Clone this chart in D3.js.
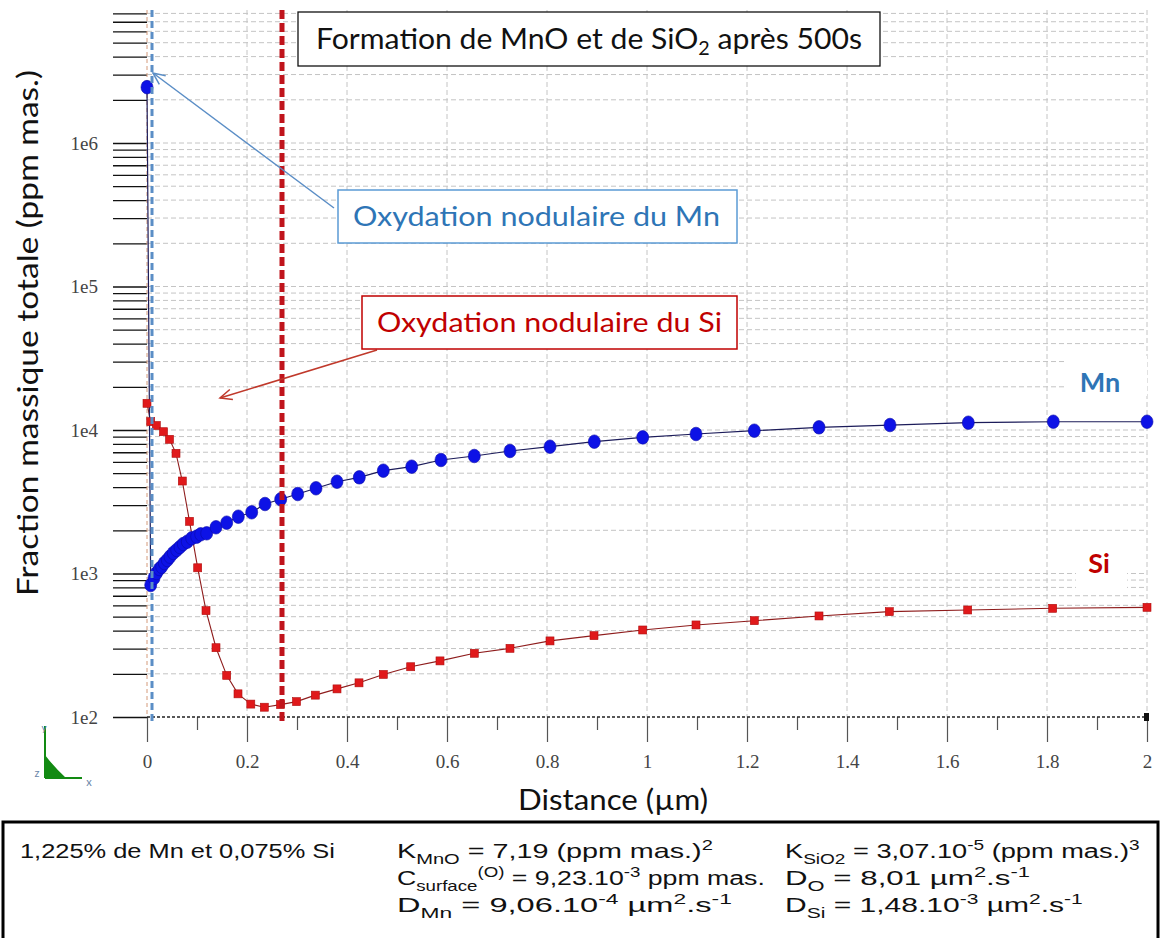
<!DOCTYPE html>
<html>
<head>
<meta charset="utf-8">
<script src="https://cdn.jsdelivr.net/npm/d3@7"></script>
<style>
  body { margin: 0; background: #fff; }
  svg { display: block; }
</style>
</head>
<body>
<svg id="chart" width="1161" height="938"></svg>
<script>
// Mn profile: distance from surface (µm) and total mass fraction (ppm mas.)
const mnDistance = [0, 0.0074, 0.014, 0.019, 0.0246, 0.0294, 0.0346, 0.0406, 0.046, 0.0526,
  0.0594, 0.066, 0.0726, 0.0806, 0.0894, 0.0994, 0.1074, 0.1194, 0.138, 0.1594,
  0.1826, 0.2094, 0.236, 0.2674, 0.3014, 0.338, 0.38, 0.4246, 0.4726, 0.5294,
  0.588, 0.6546, 0.726, 0.806, 0.8946, 0.9914, 1.098, 1.2146, 1.344, 1.486,
  1.6426, 1.8126, 2.0];
const mnFraction = [2450000, 831, 930, 1008, 1075, 1115, 1183, 1242, 1310, 1390,
  1458, 1530, 1605, 1666, 1760, 1806, 1876, 1906, 2099, 2260,
  2488, 2670, 3050, 3290, 3580, 3925, 4360, 4680, 5205, 5550,
  6180, 6590, 7140, 7650, 8290, 8890, 9380, 9890, 10440, 10830,
  11240, 11420, 11420];

// Si profile
const siDistance = [0, 0.0074, 0.0186, 0.033, 0.045, 0.058, 0.0706, 0.085, 0.1014, 0.118,
  0.138, 0.1594, 0.182, 0.2076, 0.2346, 0.267, 0.299, 0.3366, 0.38, 0.424,
  0.4726, 0.5274, 0.586, 0.6546, 0.726, 0.806, 0.894, 0.9914, 1.098, 1.2146,
  1.344, 1.4846, 1.6414, 1.8114, 2.0];
const siFraction = [15350, 11430, 10750, 9730, 8610, 6880, 4410, 2310, 1096, 551,
  304, 195, 145, 123, 117, 122, 128, 142, 157, 173,
  198, 224, 246, 278, 301, 339, 369, 404, 438, 469,
  506, 542, 557, 572, 581];

// depth of the nodular oxidation fronts (µm)
const mnFrontDepth = 0.01;
const siFrontDepth = 0.27;

// axis ticks
const xMajorTicks = [0, 0.2, 0.4, 0.6, 0.8, 1, 1.2, 1.4, 1.6, 1.8, 2];
const xMinorTicks = [0.1, 0.3, 0.5, 0.7, 0.9, 1.1, 1.3, 1.5, 1.7, 1.9];
const yDecades = [1e2, 1e3, 1e4, 1e5, 1e6];
const yDecadeLabels = ["1e2", "1e3", "1e4", "1e5", "1e6"];

const svg = d3.select("#chart");
const x = d3.scaleLinear().domain([0, 2]).range([147, 1147]);
const y = d3.scaleLog().domain([100, 8.45e6]).range([717, 10]);

const yLogTicks = [];
yDecades.forEach(d => { for (let m = 1; m <= 9; m++) { const v = m * d; if (v <= 8.2e6) yLogTicks.push(v); } });

const FONT = "Lato, 'Open Sans', sans-serif";
const SERIF = "'Liberation Serif', 'DejaVu Serif', serif";

// ---- grid ----
const grid = svg.append("g");
grid.selectAll("line.h").data(yLogTicks.filter(v => v > 100)).join("line")
  .attr("x1", x(0)).attr("x2", x(2))
  .attr("y1", d => y(d)).attr("y2", d => y(d))
  .attr("stroke", "#c4c4c4").attr("stroke-width", 1).attr("stroke-dasharray", "5,3");
grid.selectAll("line.v").data(xMajorTicks.filter(v => v > 0)).join("line")
  .attr("x1", d => x(d)).attr("x2", d => x(d))
  .attr("y1", y.range()[1]).attr("y2", y(100))
  .attr("stroke", "#c4c4c4").attr("stroke-width", 1).attr("stroke-dasharray", "5,3");

// ---- y axis: long ticks to the left, decade labels ----
const yAxis = svg.append("g").attr("transform", `translate(${x(0)},0)`)
  .call(d3.axisLeft(y).tickValues(yLogTicks).tickSize(34).tickPadding(15)
    .tickFormat(v => { const i = yDecades.indexOf(v); return i >= 0 ? yDecadeLabels[i] : ""; }));
yAxis.select(".domain").remove();
yAxis.selectAll(".tick line").attr("stroke", "#111").attr("stroke-width", 1.3);
yAxis.selectAll(".tick text").attr("font-family", SERIF).attr("font-size", 19).attr("fill", "#444");

// vertical axis line
svg.append("line").attr("x1", x(0)).attr("x2", x(0)).attr("y1", y.range()[1]).attr("y2", y(100))
  .attr("stroke", "#d49a7a").attr("stroke-width", 1).attr("stroke-dasharray", "4,3");

// ---- x axis ----
const xAxis = svg.append("g").attr("transform", `translate(0,${y(100)})`)
  .call(d3.axisBottom(x).tickValues(xMajorTicks).tickSize(25).tickPadding(13)
    .tickFormat(d => String(+d.toFixed(1))));
xAxis.select(".domain").remove();
xAxis.selectAll(".tick line").attr("stroke", "#555").attr("stroke-width", 1.2);
xAxis.selectAll(".tick text").attr("font-family", SERIF).attr("font-size", 19).attr("fill", "#444");
const xMinor = svg.append("g").attr("transform", `translate(0,${y(100)})`)
  .call(d3.axisBottom(x).tickValues(xMinorTicks).tickSize(13).tickFormat(""));
xMinor.select(".domain").remove();
xMinor.selectAll(".tick line").attr("stroke", "#555").attr("stroke-width", 1.2);

svg.append("line").attr("x1", x(0)).attr("x2", x(2)).attr("y1", y(100)).attr("y2", y(100))
  .attr("stroke", "#222").attr("stroke-width", 1.5).attr("stroke-dasharray", "3,2");
svg.append("rect").attr("x", x(2) - 3).attr("y", y(100) - 4).attr("width", 5).attr("height", 8).attr("fill", "#111");

// ---- series ----
const mnData = mnDistance.map((d, i) => ({ x: d, v: mnFraction[i] }));
const siData = siDistance.map((d, i) => ({ x: d, v: siFraction[i] }));
const line = d3.line().x(d => x(d.x)).y(d => y(d.v));

svg.append("path").datum(siData).attr("d", line)
  .attr("fill", "none").attr("stroke", "#8e1c1c").attr("stroke-width", 1.1);
svg.append("path").datum(mnData).attr("d", line)
  .attr("fill", "none").attr("stroke", "#1c1c5a").attr("stroke-width", 1.2);

svg.append("g").selectAll("rect").data(siData).join("rect")
  .attr("x", d => x(d.x) - 4).attr("y", d => y(d.v) - 4)
  .attr("width", 8).attr("height", 8)
  .attr("fill", "#e0191b").attr("stroke", "#b01010").attr("stroke-width", 0.6);
svg.append("g").selectAll("ellipse").data(mnData).join("ellipse")
  .attr("cx", d => x(d.x)).attr("cy", d => y(d.v))
  .attr("rx", 6).attr("ry", 6.8)
  .attr("fill", "#0d12e6").attr("stroke", "#0a0aa8").attr("stroke-width", 0.6);

// ---- oxidation front markers ----
svg.append("line").attr("x1", x(mnFrontDepth)).attr("x2", x(mnFrontDepth))
  .attr("y1", 10).attr("y2", 722)
  .attr("stroke", "#5b8ec6").attr("stroke-width", 3).attr("stroke-dasharray", "7,4");
svg.append("line").attr("x1", x(siFrontDepth)).attr("x2", x(siFrontDepth))
  .attr("y1", 10).attr("y2", 724)
  .attr("stroke", "#c0141c").attr("stroke-width", 5).attr("stroke-dasharray", "9,4");

// ---- labels with white backing ----
svg.append("rect").attr("x", 1064).attr("y", 356).attr("width", 83).attr("height", 40).attr("fill", "#fff");
svg.append("rect").attr("x", 1076).attr("y", 540).attr("width", 51).attr("height", 54).attr("fill", "#fff");
svg.append("text").attr("x", 1100).attr("y", 392).attr("text-anchor", "middle")
  .attr("font-family", FONT).attr("font-weight", 700).attr("font-size", 27).attr("fill", "#2e75b6").text("Mn");
svg.append("text").attr("x", 1099).attr("y", 573).attr("text-anchor", "middle")
  .attr("font-family", FONT).attr("font-weight", 700).attr("font-size", 27).attr("fill", "#c00000").text("Si");

// ---- title box ----
svg.append("rect").attr("x", 298).attr("y", 12).attr("width", 582).attr("height", 54)
  .attr("fill", "#fff").attr("stroke", "#111").attr("stroke-width", 1.3);
const title = svg.append("text").attr("x", 316).attr("y", 49)
  .attr("font-family", FONT).attr("font-size", 29).attr("fill", "#111")
  .attr("textLength", 546).attr("lengthAdjust", "spacingAndGlyphs");
title.append("tspan").text("Formation de MnO et de SiO");
title.append("tspan").attr("dy", 6).attr("font-size", 19).text("2");
title.append("tspan").attr("dy", -6).text(" après 500s");

// ---- annotations ----
function arrow(x1, y1, x2, y2, color) {
  const a = Math.atan2(y2 - y1, x2 - x1), L = 13, s = 0.42;
  svg.append("line").attr("x1", x1).attr("y1", y1).attr("x2", x2).attr("y2", y2)
    .attr("stroke", color).attr("stroke-width", 1.5);
  const p = [[x2 - L * Math.cos(a - s), y2 - L * Math.sin(a - s)], [x2, y2],
             [x2 - L * Math.cos(a + s), y2 - L * Math.sin(a + s)]];
  svg.append("path").attr("d", d3.line()(p)).attr("fill", "none")
    .attr("stroke", color).attr("stroke-width", 1.5);
}
arrow(334, 208, 153, 73, "#5b8ec6");
arrow(377, 350, 220, 398, "#c0392b");

svg.append("rect").attr("x", 338).attr("y", 190).attr("width", 399).attr("height", 53)
  .attr("fill", "#fff").attr("stroke", "#5b9bd5").attr("stroke-width", 1.5);
svg.append("text").attr("x", 353).attr("y", 226).attr("font-family", FONT).attr("font-size", 27)
  .attr("fill", "#2e75b6").attr("textLength", 367).attr("lengthAdjust", "spacingAndGlyphs")
  .text("Oxydation nodulaire du Mn");
svg.append("rect").attr("x", 362).attr("y", 296).attr("width", 375).attr("height", 53)
  .attr("fill", "#fff").attr("stroke", "#c00000").attr("stroke-width", 1.5);
svg.append("text").attr("x", 377).attr("y", 332).attr("font-family", FONT).attr("font-size", 27)
  .attr("fill", "#c00000").attr("textLength", 345).attr("lengthAdjust", "spacingAndGlyphs")
  .text("Oxydation nodulaire du Si");

// ---- axis titles ----
svg.append("text").attr("transform", "translate(38,333) rotate(-90)").attr("text-anchor", "middle")
  .attr("font-family", FONT).attr("font-size", 29).attr("fill", "#111")
  .attr("textLength", 526).attr("lengthAdjust", "spacingAndGlyphs")
  .text("Fraction massique totale (ppm mas.)");
svg.append("text").attr("x", 613).attr("y", 810).attr("text-anchor", "middle")
  .attr("font-family", FONT).attr("font-size", 29).attr("fill", "#111")
  .attr("textLength", 190).attr("lengthAdjust", "spacingAndGlyphs")
  .text("Distance (µm)");

// ---- orientation triad ----
const triad = svg.append("g");
triad.append("path").attr("d", "M45,755 L45,778 L66,778 Q55,768 45,755 Z").attr("fill", "#128a12");
triad.append("line").attr("x1", 45).attr("x2", 45).attr("y1", 726).attr("y2", 778).attr("stroke", "#128a12").attr("stroke-width", 2);
triad.append("line").attr("x1", 45).attr("x2", 82).attr("y1", 778).attr("y2", 778).attr("stroke", "#128a12").attr("stroke-width", 2);
triad.append("text").attr("x", 44).attr("y", 731).attr("text-anchor", "middle").attr("font-family", FONT).attr("font-size", 10).attr("fill", "#6a86a8").text("y");
triad.append("text").attr("x", 37).attr("y", 777).attr("text-anchor", "middle").attr("font-family", FONT).attr("font-size", 11).attr("fill", "#6a86a8").text("z");
triad.append("text").attr("x", 89).attr("y", 786).attr("text-anchor", "middle").attr("font-family", FONT).attr("font-size", 11).attr("fill", "#6a86a8").text("x");

// ---- simulation parameters panel ----
svg.append("rect").attr("x", 3).attr("y", 822).attr("width", 1155).attr("height", 130)
  .attr("fill", "#fff").attr("stroke", "#000").attr("stroke-width", 3);

const params = [
  { x: 20, y: 858, w: 315, parts: [["1,225% de Mn et 0,075% Si"]] },
  { x: 397, y: 858, w: 316, parts: [["K"], ["MnO", "sub"], [" = 7,19 (ppm mas.)"], ["2", "sup"]] },
  { x: 397, y: 885, w: 368, parts: [["C"], ["surface", "sub"], ["(O)", "sup"], [" = 9,23.10"], ["-3", "sup"], [" ppm mas."]] },
  { x: 397, y: 912, w: 335, parts: [["D"], ["Mn", "sub"], [" = 9,06.10"], ["-4", "sup"], [" µm"], ["2", "sup"], [".s"], ["-1", "sup"]] },
  { x: 785, y: 858, w: 355, parts: [["K"], ["SiO2", "sub"], [" = 3,07.10"], ["-5", "sup"], [" (ppm mas.)"], ["3", "sup"]] },
  { x: 785, y: 885, w: 245, parts: [["D"], ["O", "sub"], [" = 8,01 µm"], ["2", "sup"], [".s"], ["-1", "sup"]] },
  { x: 785, y: 912, w: 298, parts: [["D"], ["Si", "sub"], [" = 1,48.10"], ["-3", "sup"], [" µm"], ["2", "sup"], [".s"], ["-1", "sup"]] }
];
params.forEach(p => {
  const t = svg.append("text").attr("x", p.x).attr("y", p.y)
    .attr("font-family", "'Liberation Sans', Arial, sans-serif").attr("font-size", 20).attr("fill", "#111");
  let off = 0;
  p.parts.forEach(([s, kind]) => {
    const target = kind === "sub" ? 6 : kind === "sup" ? -8 : 0;
    t.append("tspan").attr("dy", target - off).attr("font-size", kind ? 14 : 20).text(s);
    off = target;
  });
  const w = t.node().getComputedTextLength();
  t.attr("transform", `translate(${p.x},0) scale(${p.w / w},1) translate(${-p.x},0)`);
});
</script>
</body>
</html>
